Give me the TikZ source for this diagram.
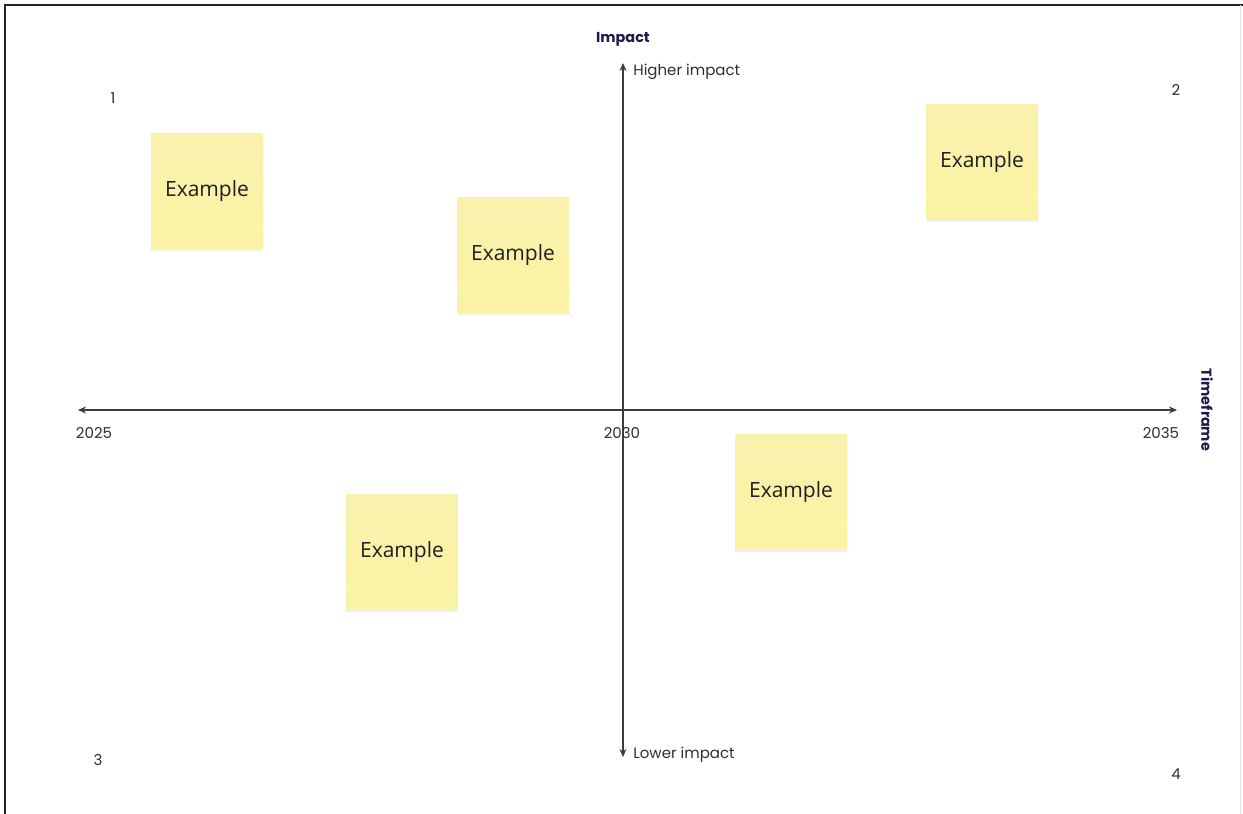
\documentclass[tikz,border=0pt]{standalone}
\usepackage{fontspec}
\setmainfont{Poppins}
\newfontfamily\notefont{Open Sans}
\usepackage{xcolor}
\usetikzlibrary{arrows.meta,shadows}

\definecolor{axisgray}{HTML}{3C3C3C}
\definecolor{titlenavy}{HTML}{1E1A4D}
\definecolor{noteyellow}{HTML}{FBF3A3}
\definecolor{notetop}{HTML}{FAF1AE}

\begin{document}
\begin{tikzpicture}[
  x=0.5pt, y=-0.5pt,
  axis/.style={axisgray, line width=0.75pt, -{Stealth[length=4pt,width=3.5pt]}},
  sticky/.style={minimum width=56pt, minimum height=57.5pt, inner sep=0pt,
    top color=notetop, bottom color=noteyellow,
    drop shadow={opacity=0.12, shadow xshift=0pt, shadow yshift=-1pt},
    font=\notefont\fontsize{10.5}{12}\selectfont, text=black!88},
  tick/.style={font=\fontsize{7.5}{8}\selectfont, text=black!82, inner sep=0pt},
  axistitle/.style={font=\bfseries\fontsize{7.2}{8}\selectfont, text=titlenavy, inner sep=0pt}
]
\useasboundingbox (0,0) rectangle (1243,814);
% frame
\draw[black!85, line width=1pt] (5,814) -- (5,5) -- (1243,5);
\draw[black!12, line width=0.5pt] (1240,5) -- (1240,814);

% axes
\coordinate (origin) at (623,410);
\coordinate (left) at (78,410);
\coordinate (right) at (1177,410);
\coordinate (top) at (623,63);
\coordinate (bottom) at (623,757);
\draw[axis] (origin) -- (left);
\draw[axis] (origin) -- (right);
\draw[axis] (origin) -- (top);
\draw[axis] (origin) -- (bottom);

% axis texts
\node[axistitle] (impact) at (623,39) {Impact};
\node[axistitle, rotate=-90] (timeframe) at (1207,410) {Timeframe};
\node[tick, anchor=west] (higher) at (633,72) {Higher impact};
\node[tick, anchor=west] (lower) at (633,755) {Lower impact};
\node[tick] (y2025) at (94,433) {2025};
\node[tick] (y2030) at (622,433) {2030};
\node[tick] (y2035) at (1161,433) {2035};

% quadrant numbers
\node[tick] (q1) at (113,98) {1};
\node[tick] (q2) at (1176,90) {2};
\node[tick] (q3) at (98,760) {3};
\node[tick] (q4) at (1176,774) {4};

% sticky notes
\node[sticky] (note1) at (207,191) {Example};
\node[sticky] (note2) at (513,255) {Example};
\node[sticky] (note3) at (982,162) {Example};
\node[sticky] (note4) at (791,492) {Example};
\node[sticky] (note5) at (402,552) {Example};
\end{tikzpicture}
\end{document}
